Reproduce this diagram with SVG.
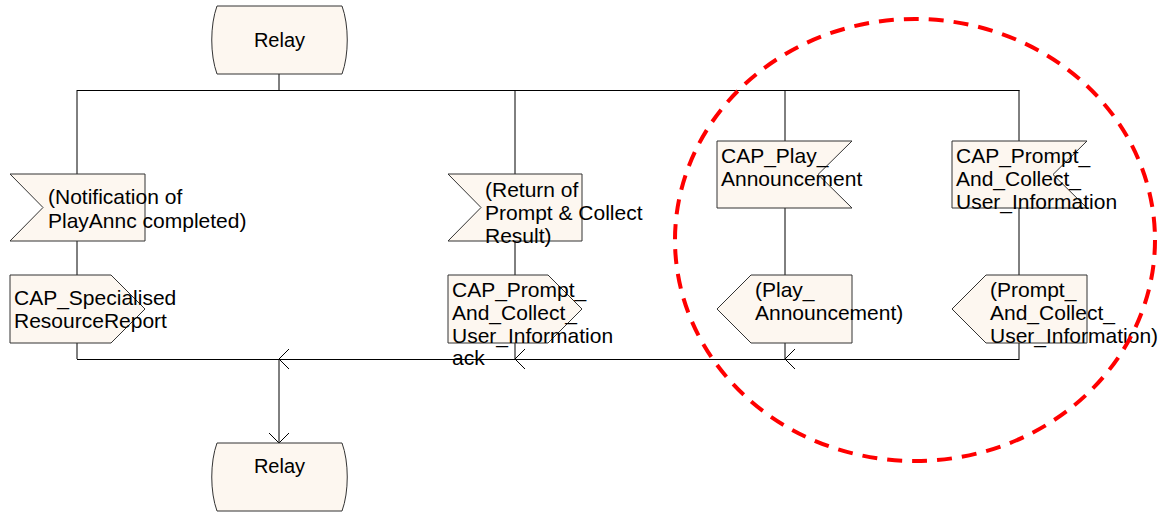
<svg xmlns="http://www.w3.org/2000/svg" width="1163" height="515" viewBox="0 0 1163 515">
<style>
.shape{fill:#fdf7f0;stroke:#333;stroke-width:1}
.t{font-family:"Liberation Sans",Arial,sans-serif;font-size:21px;fill:#000}
.relay{font-family:"Liberation Sans",Arial,sans-serif;font-size:20px;fill:#000;text-anchor:middle}
.ln{fill:none;stroke:#000;stroke-width:1}
</style>
<rect width="1163" height="515" fill="#fff"/>
<g id="connectors">
<path class="ln" d="M279,74 V90.5"/>
<path class="ln" d="M77,90.5 H1019.5"/>
<path class="ln" d="M77,90 V174 M77,241 V275 M77,343 V359"/>
<path class="ln" d="M515,90 V174 M515,241 V275 M515,343 V359"/>
<path class="ln" d="M785,90 V141 M785,208 V275 M785,343 V359"/>
<path class="ln" d="M1019,90 V141 M1019,208 V275 M1019,343 V359"/>
<path class="ln" d="M77,359.5 H1019.5"/>
<path class="ln" d="M279,359 V443"/>
<path class="ln" d="M289,349 L279,359 L289,369 M525,349 L515,359 L525,369 M795,349 L785,359 L795,369"/>
<path class="ln" d="M269,433 L279,443 L289,433"/>
</g>
<g id="relay-top">
<path class="shape" d="M217,6 H342 C349,25 349,55 342,74 H217 C210,55 210,25 217,6 Z"/>
<text class="relay" x="279.5" y="47">Relay</text>
</g>
<g id="relay-bottom">
<path class="shape" d="M217,443 H342 C349,462 349,492 342,511 H217 C210,492 210,462 217,443 Z"/>
<text class="relay" x="279.5" y="473">Relay</text>
</g>
<g id="notification">
<path class="shape" d="M10,174 H145 V241 H10 L43,207.5 Z"/>
<text class="t" x="48" y="204">(Notification of</text>
<text class="t" x="48" y="228">PlayAnnc completed)</text>
</g>
<g id="specialised-report">
<path class="shape" d="M10,275 H111 L145,309 L111,343 H10 Z"/>
<text class="t" x="14" y="305">CAP_Specialised</text>
<text class="t" x="14" y="328">ResourceReport</text>
</g>
<g id="return-pc">
<path class="shape" d="M448,174 H582 V241 H448 L481,207.5 Z"/>
<text class="t" x="485" y="197">(Return of</text>
<text class="t" x="485" y="220">Prompt &amp; Collect</text>
<text class="t" x="485" y="243">Result)</text>
</g>
<g id="pc-ack">
<path class="shape" d="M448,275 H548 L582,309 L548,343 H448 Z"/>
<text class="t" x="452" y="297">CAP_Prompt_</text>
<text class="t" x="452" y="320">And_Collect_</text>
<text class="t" x="452" y="343">User_Information</text>
<text class="t" x="452" y="365">ack</text>
</g>
<g id="cap-play">
<path class="shape" d="M717,141 H852 L818,174.5 L852,208 H717 Z"/>
<text class="t" x="721" y="163">CAP_Play_</text>
<text class="t" x="721" y="186">Announcement</text>
</g>
<g id="play-ann">
<path class="shape" d="M751,275 H852 V343 H751 L717,309 Z"/>
<text class="t" x="755" y="297">(Play_</text>
<text class="t" x="755" y="320">Announcement)</text>
</g>
<g id="cap-pc">
<path class="shape" d="M952,141 H1087 L1053,174.5 L1087,208 H952 Z"/>
<text class="t" x="956" y="163">CAP_Prompt_</text>
<text class="t" x="956" y="186">And_Collect_</text>
<text class="t" x="956" y="209">User_Information</text>
</g>
<g id="pc-req">
<path class="shape" d="M986,275 H1087 V343 H986 L952,309 Z"/>
<text class="t" x="990" y="297">(Prompt_</text>
<text class="t" x="990" y="320">And_Collect_</text>
<text class="t" x="990" y="343">User_Information)</text>
</g>
<ellipse cx="915" cy="240" rx="240" ry="221" fill="none" stroke="#ff0000" stroke-width="4" stroke-dasharray="15 10"/>
</svg>
